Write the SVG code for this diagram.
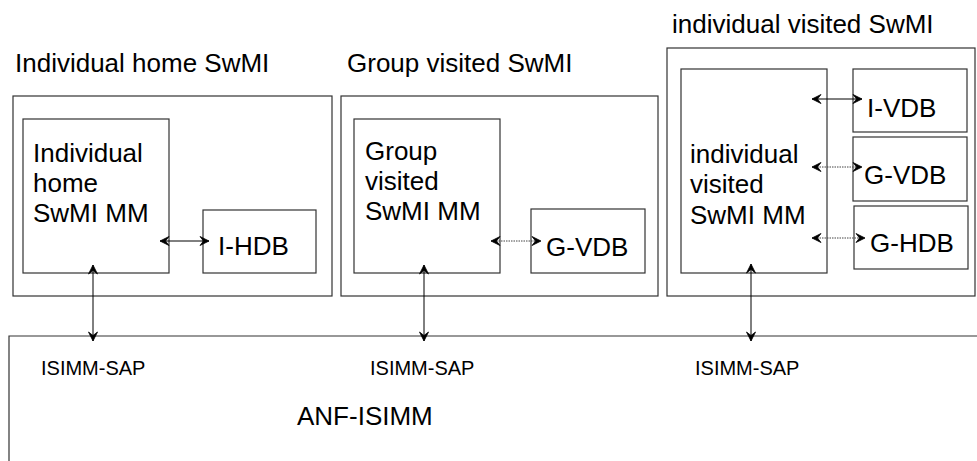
<svg xmlns="http://www.w3.org/2000/svg" width="977" height="461" viewBox="0 0 977 461">
<defs>
<marker id="ah" markerUnits="userSpaceOnUse" markerWidth="12" markerHeight="10" viewBox="-10 -5 12 10" refX="0" refY="0" orient="auto-start-reverse">
<path d="M0,0 L-9,-4.5 L-5.5,0 L-9,4.5 Z" fill="#000" stroke="#000" stroke-width="0.8" stroke-linejoin="round"/>
</marker>
<style>
.box{fill:#fff;stroke:#333;stroke-width:1.2}
.t{font-family:"Liberation Sans",Arial,sans-serif;fill:#000}
.big{font-size:26px}
.sap{font-size:20px}
.solid{stroke:#000;stroke-width:1;fill:none}
.dot{stroke:#444;stroke-width:1;stroke-dasharray:1.5,1;fill:none}
</style>
</defs>
<rect width="977" height="461" fill="#fff"/>

<g id="anf">
<path d="M9,461 V336 H977" fill="none" stroke="#333" stroke-width="1.2"/>
<text class="t sap" x="41" y="375">ISIMM-SAP</text>
<text class="t sap" x="370" y="375">ISIMM-SAP</text>
<text class="t sap" x="695" y="375">ISIMM-SAP</text>
<text class="t big" x="297" y="425">ANF-ISIMM</text>
</g>

<g id="home-swmi">
<text class="t big" x="15" y="72">Individual home SwMI</text>
<rect class="box" x="13" y="96" width="319" height="200"/>
</g>
<g id="home-mm">
<rect class="box" x="23" y="119" width="146" height="154"/>
<text class="t big" x="33" y="162">Individual</text>
<text class="t big" x="33" y="192">home</text>
<text class="t big" x="33" y="222">SwMI MM</text>
</g>
<g id="i-hdb">
<rect class="box" x="203" y="210" width="113" height="63"/>
<text class="t big" x="218" y="255">I-HDB</text>
</g>

<g id="group-swmi">
<text class="t big" x="347" y="72">Group visited SwMI</text>
<rect class="box" x="341" y="96" width="317" height="200"/>
</g>
<g id="group-mm">
<rect class="box" x="354" y="119" width="146" height="154"/>
<text class="t big" x="365" y="160">Group</text>
<text class="t big" x="365" y="190">visited</text>
<text class="t big" x="365" y="220">SwMI MM</text>
</g>
<g id="g-vdb-1">
<rect class="box" x="531" y="209" width="114" height="64"/>
<text class="t big" x="546" y="256">G-VDB</text>
</g>

<g id="visited-swmi">
<text class="t big" x="672" y="33">individual visited SwMI</text>
<rect class="box" x="667" y="48" width="308" height="248"/>
</g>
<g id="visited-mm">
<rect class="box" x="681" y="69" width="146" height="204"/>
<text class="t big" x="690" y="163">individual</text>
<text class="t big" x="690" y="193">visited</text>
<text class="t big" x="690" y="224">SwMI MM</text>
</g>
<g id="i-vdb">
<rect class="box" x="853" y="69" width="114" height="63"/>
<text class="t big" x="867" y="117">I-VDB</text>
</g>
<g id="g-vdb-2">
<rect class="box" x="853" y="137" width="114" height="64"/>
<text class="t big" x="864" y="184">G-VDB</text>
</g>
<g id="g-hdb">
<rect class="box" x="854" y="206" width="114" height="63"/>
<text class="t big" x="870" y="252">G-HDB</text>
</g>

<g id="connectors">
<line class="solid" x1="160" y1="241" x2="209" y2="241" marker-start="url(#ah)" marker-end="url(#ah)"/>
<line class="dot" x1="491" y1="241" x2="541" y2="241" marker-start="url(#ah)" marker-end="url(#ah)"/>
<line class="solid" x1="812" y1="99" x2="862" y2="99" marker-start="url(#ah)" marker-end="url(#ah)"/>
<line class="dot" x1="812" y1="167" x2="862" y2="167" marker-start="url(#ah)" marker-end="url(#ah)"/>
<line class="dot" x1="812" y1="238" x2="865" y2="238" marker-start="url(#ah)" marker-end="url(#ah)"/>
<line class="solid" x1="93" y1="265" x2="93" y2="341" marker-start="url(#ah)" marker-end="url(#ah)"/>
<line class="solid" x1="424" y1="265" x2="424" y2="341" marker-start="url(#ah)" marker-end="url(#ah)"/>
<line class="solid" x1="751" y1="264" x2="751" y2="341" marker-start="url(#ah)" marker-end="url(#ah)"/>
</g>
</svg>
